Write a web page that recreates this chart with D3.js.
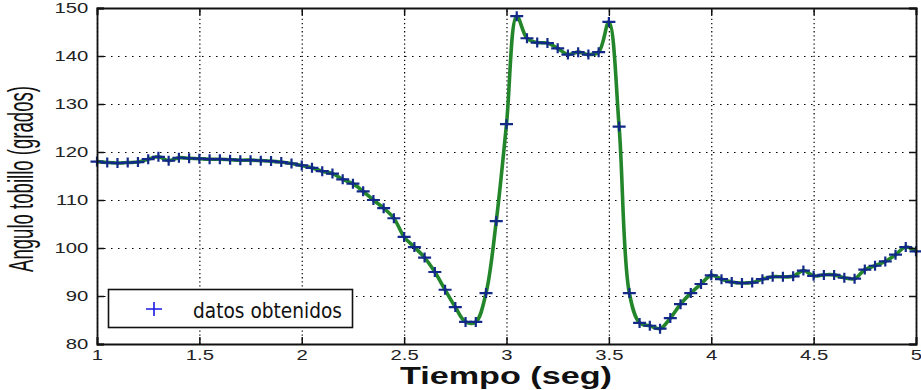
<!DOCTYPE html>
<html>
<head>
<meta charset="utf-8">
<script src="https://cdn.jsdelivr.net/npm/d3@7/dist/d3.min.js"></script>
<style>
html,body{margin:0;padding:0;background:#fff;}
svg{display:block;}
</style>
</head>
<body>
<svg id="chart" width="921" height="390"></svg>
<script>
// ---- data ----
const time = [1.00,1.05,1.10,1.15,1.20,1.25,1.30,1.35,1.40,1.45,
              1.50,1.55,1.60,1.65,1.70,1.75,1.80,1.85,1.90,1.95,
              2.00,2.05,2.10,2.15,2.20,2.25,2.30,2.35,2.40,2.45,
              2.50,2.55,2.60,2.65,2.70,2.75,2.80,2.85,2.90,2.95,
              3.00,3.05,3.10,3.15,3.20,3.25,3.30,3.35,3.40,3.45,
              3.50,3.55,3.60,3.65,3.70,3.75,3.80,3.85,3.90,3.95,
              4.00,4.05,4.10,4.15,4.20,4.25,4.30,4.35,4.40,4.45,
              4.50,4.55,4.60,4.65,4.70,4.75,4.80,4.85,4.90,4.95,5.00];
const angle = [118.0,117.8,117.7,117.8,117.9,118.5,119.0,118.2,118.8,118.7,
               118.6,118.5,118.5,118.4,118.3,118.3,118.2,118.1,117.9,117.6,
               117.2,116.7,116.0,115.5,114.3,113.4,111.8,110.0,108.3,106.2,
               102.3,100.2,98.0,95.0,91.3,87.7,84.6,84.6,90.6,105.6,
               125.8,148.3,143.7,142.8,142.7,141.6,140.3,140.8,140.3,140.8,
               147.1,125.3,90.6,84.4,83.8,83.2,85.4,88.3,90.6,92.5,
               94.3,93.5,92.9,92.7,92.8,93.5,94.0,94.0,94.1,95.3,
               94.2,94.4,94.4,93.8,93.6,95.5,96.3,97.2,98.6,100.2,99.3];
const xTicks = [1,1.5,2,2.5,3,3.5,4,4.5,5];
const yTicks = [80,90,100,110,120,130,140,150];
const xLabel = "Tiempo (seg)";
const yLabel = "Angulo tobillo (grados)";
const legendLabel = "datos obtenidos";

// ---- layout ----
const L = 97, R = 916, T = 8, B = 344;
const svg = d3.select("#chart");
const x = d3.scaleLinear().domain([1,5]).range([L,R]);
const y = d3.scaleLinear().domain([80,150]).range([B,T]);
const pts = time.map((t,i)=>({t, v:angle[i]}));

// grid
const gx = svg.append("g").attr("transform",`translate(0,${B})`)
  .call(d3.axisBottom(x).tickValues(xTicks).tickSize(-(B-T)).tickFormat(""));
gx.select(".domain").remove();
gx.selectAll("line").attr("stroke","#000").attr("stroke-width",1.2).attr("stroke-dasharray","1.3,2.8");
const gy = svg.append("g").attr("transform",`translate(${L},0)`)
  .call(d3.axisLeft(y).tickValues(yTicks).tickSize(-(R-L)).tickFormat(""));
gy.select(".domain").remove();
gy.selectAll("line").attr("stroke","#000").attr("stroke-width",1.2).attr("stroke-dasharray","1.5,5.5");

// line
svg.append("path").datum(pts)
  .attr("fill","none").attr("stroke","#23862b").attr("stroke-width",3.6)
  .attr("stroke-linejoin","round")
  .attr("d", d3.line().x(d=>x(d.t)).y(d=>y(d.v)).curve(d3.curveCatmullRom.alpha(0.5)));

// markers
const mw = 6.5, mh = 5;
svg.append("g").selectAll("path").data(pts).join("path")
  .attr("d", d=>`M${x(d.t)-mw},${y(d.v)}H${x(d.t)+mw}M${x(d.t)},${y(d.v)-mh}V${y(d.v)+mh}`)
  .attr("stroke","#13298a").attr("stroke-width",2.2).attr("fill","none");

// axes with inward ticks
const tickFont = "'Liberation Sans', Arial, sans-serif";
const ax = svg.append("g").attr("transform",`translate(0,${B})`)
  .call(d3.axisBottom(x).tickValues(xTicks).tickSize(-7).tickPadding(6).tickFormat(d3.format("")));
const ay = svg.append("g").attr("transform",`translate(${L},0)`)
  .call(d3.axisLeft(y).tickValues(yTicks).tickSize(-7).tickPadding(6).tickFormat(d3.format("")));
const axt = svg.append("g").attr("transform",`translate(0,${T})`)
  .call(d3.axisTop(x).tickValues(xTicks).tickSize(-7).tickFormat(""));
const ayr = svg.append("g").attr("transform",`translate(${R},0)`)
  .call(d3.axisRight(y).tickValues(yTicks).tickSize(-7).tickFormat(""));
[ax,ay,axt,ayr].forEach(g=>{
  g.select(".domain").attr("stroke","#111").attr("stroke-width",1.8);
  g.selectAll(".tick line").attr("stroke","#111").attr("stroke-width",1.5);
  g.selectAll("text").attr("font-family",tickFont).attr("font-size",14).attr("fill","#222")
    .attr("transform","scale(1.45,1)");
});
ax.selectAll("text").attr("dy","0.72em");

// legend
const lg = svg.append("g");
lg.append("rect").attr("x",108.5).attr("y",289.5).attr("width",244).attr("height",38)
  .attr("fill","#fff").attr("stroke","#111").attr("stroke-width",1.6);
lg.append("path").attr("d","M146,309H162M154,302V316").attr("stroke","#1a1ae6").attr("stroke-width",1.6);
lg.append("text").attr("x",193).attr("y",318).text(legendLabel)
  .attr("font-family","'DejaVu Sans', sans-serif").attr("font-size",21)
  .attr("textLength",149).attr("lengthAdjust","spacingAndGlyphs").attr("fill","#111");

// axis titles
svg.append("text").attr("x",506).attr("y",384).attr("text-anchor","middle")
  .attr("font-family","'Liberation Sans', Arial, sans-serif").attr("font-weight","bold")
  .attr("font-size",24).attr("textLength",212).attr("lengthAdjust","spacingAndGlyphs")
  .attr("fill","#111").text(xLabel);
svg.append("text").attr("transform","translate(33,179) scale(1.8,1) rotate(-90)")
  .attr("text-anchor","middle")
  .attr("font-family","'Liberation Sans', Arial, sans-serif")
  .attr("font-size",19).attr("textLength",186).attr("lengthAdjust","spacingAndGlyphs")
  .attr("fill","#111").text(yLabel);
</script>
</body>
</html>
